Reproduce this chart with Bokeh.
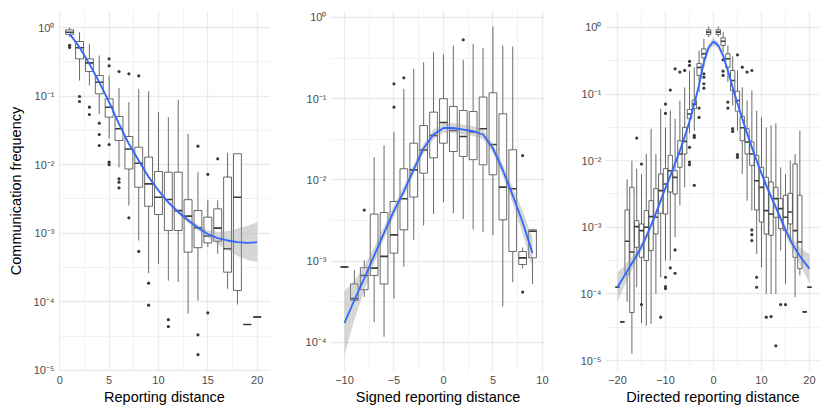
from bokeh.plotting import figure
from bokeh.models import Range1d, FixedTicker, CustomJSTickFormatter
from bokeh.layouts import row
from bokeh.embed import file_html
from bokeh.resources import INLINE

# ---------------- data (values given as log10 of communication frequency) ----------------
# Panel 1: reporting distance
P1_X = list(range(1, 21))
P1_Q1 = [-0.10, -0.457, -0.641, -0.966, -1.307, -1.647, -2.063, -2.328, -2.605, -2.726,
         -2.959, -2.959, -3.275, -3.21, -3.14, -3.115, -3.567, -3.834, -4.33, -4.22]
P1_MED = [-0.068, -0.296, -0.515, -0.797, -1.162, -1.477, -1.771, -1.978, -2.28, -2.474,
          -2.507, -2.67, -2.75, -2.92, -3.04, -2.925, -3.226, -2.474, -4.33, -4.22]
P1_Q3 = [-0.034, -0.204, -0.457, -0.70, -1.04, -1.297, -1.589, -1.745, -1.89, -2.099,
         -2.109, -2.109, -2.51, -2.668, -2.765, -2.643, -2.18, -1.84, -4.33, -4.22]
P1_LO = [-0.14, -0.773, -0.845, -1.259, -1.62, -2.04, -2.595, -3.105, -3.58, -3.445,
         -3.69, -3.71, -4.17, -3.98, -3.20, -3.30, -3.81, -4.04, -4.33, -4.22]
P1_HI = [0.0, -0.068, -0.238, -0.408, -0.70, -0.879, -1.089, -0.894, -0.928, -1.235,
         -1.307, -1.054, -1.55, -2.11, -2.52, -2.52, -1.827, -1.84, -4.33, -4.22]
P1_OUT_X = [1, 1, 2, 2, 3, 3, 4, 4, 4, 5, 5, 5, 5, 5, 6, 6, 6, 6, 7, 7, 8, 8, 9, 9,
            11, 11, 14, 14, 14, 15, 15, 16]
P1_OUT_Y = [-0.26, -0.29, -1.006, -1.079, -1.162, -1.268, -1.395, -1.560, -1.720,
            -0.457, -0.559, -1.706, -1.963, -2.0, -0.641, -2.206, -2.255, -2.337,
            -0.675, -2.774, -0.704, -3.265, -3.727, -4.048, -4.26, -4.36,
            -1.73, -4.48, -4.77, -2.14, -4.16, -1.914]
P1_SMOOTH = [-0.092, -0.287, -0.53, -0.797, -1.089, -1.404, -1.696, -1.94, -2.18, -2.376,
             -2.55, -2.69, -2.81, -2.92, -3.01, -3.07, -3.105, -3.13, -3.14, -3.13]
P1_SE_LO = [-0.122, -0.317, -0.56, -0.827, -1.119, -1.434, -1.726, -1.97, -2.21, -2.406,
            -2.58, -2.72, -2.845, -2.96, -3.065, -3.16, -3.245, -3.33, -3.39, -3.42]
P1_SE_HI = [-0.062, -0.257, -0.50, -0.767, -1.059, -1.374, -1.666, -1.91, -2.15, -2.346,
            -2.52, -2.66, -2.775, -2.88, -2.955, -2.98, -2.965, -2.93, -2.89, -2.84]

# Panel 2: signed reporting distance
P2_X = list(range(-10, 10))
P2_Q1 = [-3.07, -3.48, -3.35, -3.175, -3.28, -2.90, -2.613, -2.21, -1.916, -1.727,
         -1.547, -1.65, -1.71, -1.75, -1.813, -1.936, -2.49, -2.88, -3.04, -2.958]
P2_MED = [-3.07, -3.46, -3.175, -3.085, -2.94, -2.675, -2.23, -1.875, -1.63, -1.452,
          -1.292, -1.39, -1.465, -1.41, -1.37, -1.563, -2.088, -2.108, -2.958, -2.63]
P2_Q3 = [-3.07, -3.28, -3.08, -2.42, -2.40, -2.265, -1.862, -1.547, -1.33, -1.165,
         -1.0, -1.095, -1.145, -1.157, -0.98, -0.927, -1.185, -1.628, -2.88, -2.613]
P2_LO = [-3.07, -3.48, -3.44, -3.75, -3.93, -3.46, -3.07, -2.736, -2.56, -2.416,
         -2.273, -2.41, -2.48, -2.61, -2.64, -2.68, -3.557, -3.258, -3.09, -3.28]
P2_HI = [-3.07, -3.11, -2.99, -1.72, -1.575, -1.41, -0.878, -0.632, -0.55, -0.427,
         -0.455, -0.345, -0.521, -0.324, -0.373, -0.111, -0.345, -0.357, -2.83, -2.6]
P2_OUT_X = [-8, -5, -5, -4, 2, 8, 8]
P2_OUT_Y = [-2.37, -0.816, -1.104, -0.742, -0.275, -1.70, -3.38]
P2_SMOOTH = [-3.76, -3.48, -3.21, -2.93, -2.65, -2.38, -2.14, -1.87, -1.61, -1.44,
             -1.36, -1.36, -1.38, -1.40, -1.44, -1.61, -1.88, -2.19, -2.52, -2.90]
P2_SE_LO = [-4.15, -3.72, -3.36, -3.03, -2.73, -2.45, -2.205, -1.93, -1.67, -1.50,
            -1.42, -1.42, -1.44, -1.46, -1.50, -1.67, -1.95, -2.29, -2.66, -3.09]
P2_SE_HI = [-3.37, -3.24, -3.06, -2.83, -2.57, -2.31, -2.075, -1.81, -1.55, -1.38,
            -1.30, -1.30, -1.32, -1.34, -1.38, -1.55, -1.81, -2.09, -2.38, -2.71]

# Panel 3: directed reporting distance
P3_X = list(range(-20, 0)) + list(range(1, 21))
P3_Q1 = [-3.90, -4.42, -3.70, -4.28, -3.30, -3.45, -3.50, -3.35, -3.10, -2.79,
         -2.80, -2.47, -2.50, -2.10, -1.90, -1.37, -1.22, -0.72, -0.455, -0.105,
         -0.105, -0.27, -0.596, -0.946, -1.256, -1.70, -1.90, -2.07, -2.74, -2.92,
         -3.10, -3.12, -2.85, -3.02, -3.05, -2.95, -3.45, -3.62, -4.27, -3.90]
P3_MED = [-3.90, -4.42, -3.21, -3.37, -2.99, -3.05, -3.00, -2.84, -2.85, -2.45,
          -2.35, -2.15, -2.25, -1.90, -1.71, -1.30, -1.15, -0.60, -0.395, -0.07,
          -0.07, -0.206, -0.47, -0.796, -1.096, -1.506, -1.72, -1.90, -2.30, -2.40,
          -2.75, -2.80, -2.57, -2.72, -2.85, -2.77, -3.05, -3.22, -4.27, -3.90]
P3_Q3 = [-3.90, -4.42, -2.74, -2.40, -2.90, -2.95, -2.75, -2.60, -2.42, -2.20,
         -2.12, -1.92, -2.15, -1.70, -1.50, -1.23, -1.09, -0.54, -0.32, -0.035,
         -0.035, -0.155, -0.395, -0.646, -0.956, -1.336, -1.52, -1.72, -1.92, -2.10,
         -2.25, -2.32, -2.40, -2.57, -2.52, -2.49, -2.05, -2.52, -4.27, -3.90]
P3_LO = [-3.90, -4.42, -4.12, -4.90, -3.90, -4.44, -4.48, -4.45, -4.00, -3.75,
         -3.50, -3.50, -3.15, -2.67, -2.40, -1.59, -1.55, -0.97, -0.596, -0.145,
         -0.14, -0.37, -0.82, -1.17, -1.55, -2.20, -2.60, -2.75, -3.40, -3.60,
         -4.00, -4.00, -4.00, -3.35, -3.85, -3.20, -4.05, -3.72, -4.27, -3.90]
P3_HI = [-3.90, -4.42, -2.28, -2.00, -2.12, -2.20, -1.90, -1.52, -1.90, -1.22,
         -1.50, -1.25, -1.37, -1.10, -0.90, -0.65, -0.60, -0.345, -0.17, 0.015,
         0.015, -0.07, -0.27, -0.435, -0.646, -0.896, -1.096, -0.946, -1.25, -1.35,
         -1.50, -1.47, -1.44, -2.10, -2.20, -2.00, -1.90, -1.55, -4.27, -3.90]
P3_OUT_X = [-16, -15, -15, -11, -10, -10, -10, -10, -10, -9, -9, -8, -8, -8, -7, -6,
            -5, -5, -5, -5, -5, -4, -4, -4, -3, -3, -2, -2, -2, -2,
            2, 2, 2, 3, 3, 4, 4, 5, 5, 5, 6, 7, 8, 8, 8, 8, 9, 9, 11, 12, 13, 14, 15]
P3_OUT_Y = [-1.66, -2.05, -4.16, -4.35, -1.15, -1.29, -3.75, -3.89, -3.92, -0.94, -3.61,
            -0.62, -3.34, -3.69, -0.67, -0.645, -0.51, -0.57, -1.80, -2.02, -2.06,
            -1.62, -1.65, -2.37, -1.21, -1.35, -0.695, -0.746, -0.845, -0.911,
            -0.485, -0.656, -0.72, -1.12, -1.21, -1.52, -1.56, -0.41, -1.91, -1.95,
            -0.596, -0.67, -0.646, -3.04, -3.11, -3.20, -3.75, -3.90, -4.35, -4.34,
            -4.78, -4.16, -4.16]
P3_SX = list(range(-20, 21))
P3_SMOOTH = [-3.90, -3.78, -3.66, -3.54, -3.42, -3.29, -3.14, -2.97, -2.79, -2.60,
             -2.41, -2.23, -2.04, -1.85, -1.64, -1.41, -1.15, -0.86, -0.52, -0.30,
             -0.21,
             -0.27, -0.42, -0.65, -0.90, -1.14, -1.37, -1.59, -1.80, -2.00, -2.19,
             -2.37, -2.54, -2.70, -2.87, -3.04, -3.19, -3.32, -3.43, -3.53, -3.62]
P3_SE_LO = [-4.12, -3.95, -3.79, -3.64, -3.50, -3.36, -3.19, -3.02, -2.84, -2.65,
            -2.46, -2.28, -2.09, -1.90, -1.69, -1.46, -1.20, -0.91, -0.57, -0.35,
            -0.27,
            -0.32, -0.47, -0.70, -0.95, -1.19, -1.42, -1.64, -1.85, -2.05, -2.24,
            -2.42, -2.59, -2.75, -2.92, -3.11, -3.27, -3.42, -3.56, -3.70, -3.84]
P3_SE_HI = [-3.68, -3.61, -3.53, -3.44, -3.34, -3.22, -3.09, -2.92, -2.74, -2.55,
            -2.36, -2.18, -1.99, -1.80, -1.59, -1.36, -1.10, -0.81, -0.47, -0.25,
            -0.15,
            -0.22, -0.37, -0.60, -0.85, -1.09, -1.32, -1.54, -1.75, -1.95, -2.14,
            -2.32, -2.49, -2.65, -2.82, -2.97, -3.11, -3.22, -3.30, -3.36, -3.40]

# axis ticks
P1_XTICKS = [0, 5, 10, 15, 20]
P1_XMINOR = [2.5, 7.5, 12.5, 17.5]
P2_XTICKS = [-10, -5, 0, 5, 10]
P2_XMINOR = [-7.5, -2.5, 2.5, 7.5]
P3_XTICKS = [-20, -10, 0, 10, 20]
P3_XMINOR = [-15, -5, 5, 15]
Y_DECADES_5 = [0, -1, -2, -3, -4, -5]
Y_DECADES_4 = [0, -1, -2, -3, -4]

BOX_COL = "#3a3a3a"
FONT = "Liberation Sans"


def pw(v):
    return [10 ** e for e in v]


YFMT = """
const sup = {"0":"\\u2070","1":"\\u00b9","2":"\\u00b2","3":"\\u00b3","4":"\\u2074",
             "5":"\\u2075","6":"\\u2076","7":"\\u2077","8":"\\u2078","9":"\\u2079","-":"\\u207b"};
const e = Math.round(Math.log10(tick));
return "10" + String(e).split("").map(c => sup[c]).join("");
"""
XFMT = "return tick < 0 ? '\\u2212' + Math.abs(tick) : String(tick);"


def panel(xs, q1, med, q3, lo, hi, ox, oy, sx, sm, slo, shi, bw, xr, yr,
          xt, xm, ydec, xlabel, ylabel, fw, bl, br):
    p = figure(frame_width=fw, frame_height=361,
               x_range=Range1d(xr[0], xr[1]),
               y_range=Range1d(10 ** yr[0], 10 ** yr[1]),
               y_axis_type="log", output_backend="svg", toolbar_location=None,
               min_border_left=bl, min_border_right=br, min_border_top=10,
               min_border_bottom=36)
    p.outline_line_color = None
    p.background_fill_color = "white"
    p.border_fill_color = "white"

    xtick = FixedTicker(ticks=xt, minor_ticks=xm)
    ytick = FixedTicker(ticks=[10 ** d for d in ydec],
                        minor_ticks=[10 ** (d - 0.5) for d in ydec])
    p.xaxis.ticker = xtick
    p.yaxis.ticker = ytick
    p.xgrid.ticker = xtick
    p.ygrid.ticker = ytick
    p.xaxis.formatter = CustomJSTickFormatter(code=XFMT)
    p.yaxis.formatter = CustomJSTickFormatter(code=YFMT)
    for g in (p.xgrid, p.ygrid):
        g.grid_line_color = "#EBEBEB"
        g.grid_line_width = 1.3
        g.minor_grid_line_color = "#EFEFEF"
        g.minor_grid_line_width = 0.8
    for ax in (p.xaxis, p.yaxis):
        ax.axis_line_color = None
        ax.major_tick_line_color = None
        ax.minor_tick_line_color = None
        ax.major_tick_out = 0
        ax.major_tick_in = 0
        ax.minor_tick_out = 0
        ax.minor_tick_in = 0
        ax.major_label_text_font = FONT
        ax.major_label_text_font_size = "11px"
        ax.major_label_text_color = "#4D4D4D"
        ax.major_label_standoff = 4
        ax.axis_label_text_font = FONT
        ax.axis_label_text_font_size = "14.5px"
        ax.axis_label_text_font_style = "normal"
        ax.axis_label_text_color = "black"
    p.xaxis.axis_label = xlabel
    p.xaxis.axis_label_standoff = 2
    if ylabel:
        p.yaxis.axis_label = ylabel
        p.yaxis.axis_label_standoff = 7

    q1v, medv, q3v, lov, hiv = pw(q1), pw(med), pw(q3), pw(lo), pw(hi)
    p.segment(x0=xs, y0=lov, x1=xs, y1=q1v, line_color=BOX_COL, line_width=0.75)
    p.segment(x0=xs, y0=q3v, x1=xs, y1=hiv, line_color=BOX_COL, line_width=0.75)
    p.vbar(x=xs, width=bw, bottom=q1v, top=q3v, fill_color="white",
           line_color=BOX_COL, line_width=0.75)
    p.segment(x0=[x - bw / 2 for x in xs], y0=medv, x1=[x + bw / 2 for x in xs],
              y1=medv, line_color=BOX_COL, line_width=1.6)
    p.scatter(x=ox, y=pw(oy), size=3.2, color=BOX_COL, line_width=0)
    p.varea(x=sx, y1=pw(slo), y2=pw(shi), fill_color="#999999", fill_alpha=0.4)
    p.line(x=sx, y=pw(sm), line_color="#3366FF", line_width=1.8)
    return p


p1 = panel(P1_X, P1_Q1, P1_MED, P1_Q3, P1_LO, P1_HI, P1_OUT_X, P1_OUT_Y,
           P1_X, P1_SMOOTH, P1_SE_LO, P1_SE_HI, 0.8, (-0.13, 21.35), (-5.015, 0.248),
           P1_XTICKS, P1_XMINOR, Y_DECADES_5, "Reporting distance",
           "Communication frequency", 212, 58, 10)
p2 = panel(P2_X, P2_Q1, P2_MED, P2_Q3, P2_LO, P2_HI, P2_OUT_X, P2_OUT_Y,
           P2_X, P2_SMOOTH, P2_SE_LO, P2_SE_HI, 0.78, (-11.41, 10.31), (-4.357, 0.086),
           P2_XTICKS, P2_XMINOR, Y_DECADES_4, "Signed reporting distance",
           None, 215, 50, 10)
p3 = panel(P3_X, P3_Q1, P3_MED, P3_Q3, P3_LO, P3_HI, P3_OUT_X, P3_OUT_Y,
           P3_SX, P3_SMOOTH, P3_SE_LO, P3_SE_HI, 0.9, (-22.5, 22.3), (-5.165, 0.255),
           P3_XTICKS, P3_XMINOR, Y_DECADES_5, "Directed reporting distance",
           None, 215, 50, 8)

layout = row(p1, p2, p3)
with open("out.html", "w", encoding="utf-8") as f:
    f.write(file_html(layout, INLINE))
